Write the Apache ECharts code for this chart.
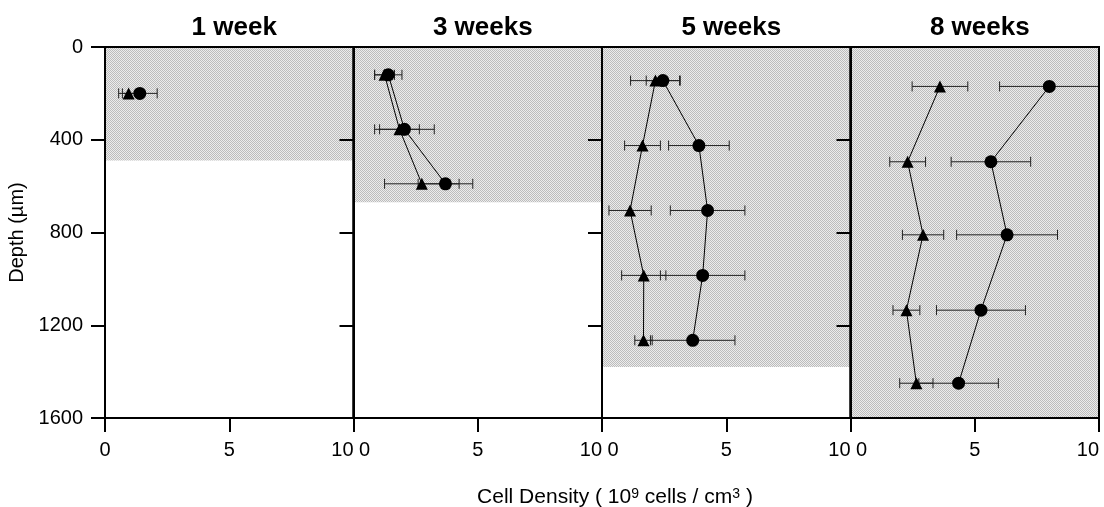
<!DOCTYPE html>
<html>
<head>
<meta charset="utf-8">
<script src="https://cdn.jsdelivr.net/npm/echarts@6/dist/echarts.min.js"></script>
<style>
html,body{margin:0;padding:0;background:#fff;}
#chart{width:1104px;height:507px;}
</style>
</head>
<body>
<div id="chart"></div>
<script>
// ---- data ----
var panelTitles = ['1 week', '3 weeks', '5 weeks', '8 weeks'];
var shadeDepth = [490, 670, 1380, 1600];
var xTicks = [0, 5, 10];
var yTicks = [0, 400, 800, 1200, 1600];

var depth1 = [200];
var circle1 = [1.4];
var circleErr1 = [0.7];
var tri1 = [0.95];
var triErr1 = [0.4];

var depth3 = [120, 355, 590];
var circle3 = [1.4, 2.05, 3.7];
var circleErr3 = [0.55, 1.2, 1.1];
var tri3 = [1.25, 1.85, 2.75];
var triErr3 = [0.4, 0.8, 1.5];

var depth5 = [145, 425, 705, 985, 1265];
var circle5 = [2.45, 3.9, 4.25, 4.05, 3.65];
var circleErr5 = [0.67, 1.22, 1.5, 1.7, 1.7];
var tri5 = [2.15, 1.63, 1.13, 1.68, 1.67];
var triErr5 = [1.0, 0.72, 0.85, 0.89, 0.35];

var depth8 = [170, 495, 810, 1135, 1450];
var circle8 = [8.0, 5.65, 6.3, 5.25, 4.35];
var circleErr8 = [2.0, 1.6, 2.03, 1.79, 1.6];
var tri8 = [3.6, 2.3, 2.92, 2.25, 2.65];
var triErr8 = [1.12, 0.72, 0.83, 0.54, 0.67];

var panels = [
  {depth: depth1, circle: circle1, circleErr: circleErr1, tri: tri1, triErr: triErr1},
  {depth: depth3, circle: circle3, circleErr: circleErr3, tri: tri3, triErr: triErr3},
  {depth: depth5, circle: circle5, circleErr: circleErr5, tri: tri5, triErr: triErr5},
  {depth: depth8, circle: circle8, circleErr: circleErr8, tri: tri8, triErr: triErr8}
];

// ---- shading pattern ----
var pc = document.createElement('canvas');
pc.width = 2; pc.height = 2;
var pctx = pc.getContext('2d');
pctx.fillStyle = '#ececec'; pctx.fillRect(0, 0, 2, 2);
pctx.fillStyle = '#bcbcbc'; pctx.fillRect(0, 0, 1, 1); pctx.fillRect(1, 1, 1, 1);
var shadePattern = {image: pc, repeat: 'repeat'};

var FONT = 'Liberation Sans, Arial, Helvetica, sans-serif';
var GRID_LEFT = 105, GRID_W = 248.5, GRID_TOP = 47, GRID_H = 371;

var grids = [], xAxes = [], yAxes = [], series = [], titles = [];

function errRender(params, api) {
  var x = api.value(0), y = api.value(1), e = api.value(2);
  var p1 = api.coord([x - e, y]);
  var p2 = api.coord([x + e, y]);
  var h = 5;
  var st = {stroke: '#222', lineWidth: 1};
  return {
    type: 'group',
    children: [
      {type: 'line', shape: {x1: p1[0], y1: p1[1], x2: p2[0], y2: p2[1]}, style: st},
      {type: 'line', shape: {x1: p1[0], y1: p1[1] - h, x2: p1[0], y2: p1[1] + h}, style: st},
      {type: 'line', shape: {x1: p2[0], y1: p2[1] - h, x2: p2[0], y2: p2[1] + h}, style: st}
    ]
  };
}

panels.forEach(function (p, i) {
  var left = GRID_LEFT + i * GRID_W;
  grids.push({
    left: left, top: GRID_TOP, width: GRID_W, height: GRID_H,
    show: true, borderColor: '#000', borderWidth: 2, backgroundColor: 'transparent', z: 5
  });
  var lab = {
    show: true, fontSize: 20, color: '#000', fontFamily: FONT, margin: 22,
    formatter: (function (idx) {
      return function (v) {
        if (v === 0 && idx > 0) return ' ' + v;
        return String(v);
      };
    })(i)
  };
  if (i > 0) lab.alignMinLabel = 'left';
  lab.alignMaxLabel = 'right';
  xAxes.push({
    type: 'value', gridIndex: i, min: xTicks[0], max: xTicks[xTicks.length - 1], interval: 5,
    splitLine: {show: false},
    axisLine: {show: true, onZero: false, lineStyle: {color: '#000', width: 2}},
    axisTick: {show: true, inside: false, length: 14, lineStyle: {color: '#000', width: 2}},
    axisLabel: lab,
    z: 6
  });
  var y = {
    type: 'value', gridIndex: i, inverse: true, min: yTicks[0], max: yTicks[yTicks.length - 1], interval: 400,
    splitLine: {show: false},
    axisLine: {show: true, onZero: false, lineStyle: {color: '#000', width: 2}},
    axisTick: {show: true, inside: false, length: 14, lineStyle: {color: '#000', width: 2}},
    axisLabel: {show: i === 0, fontSize: 20, color: '#000', fontFamily: FONT, margin: 22,
      formatter: function (v) { return String(v); }},
    z: 6
  };
  if (i === 0) {
    y.name = 'Depth (\u00b5m)';
    y.nameLocation = 'middle';
    y.nameRotate = 90;
    y.nameGap = 78;
    y.nameTextStyle = {fontSize: 20, color: '#000', fontFamily: FONT};
  }
  yAxes.push(y);

  titles.push({
    text: panelTitles[i], left: left + GRID_W / 2, top: 10, textAlign: 'center',
    textStyle: {fontSize: 26, fontWeight: 'bold', color: '#000', fontFamily: FONT}
  });

  // shading
  series.push({
    type: 'line', xAxisIndex: i, yAxisIndex: i, data: [], z: 1, silent: true,
    markArea: {
      silent: true,
      itemStyle: {color: shadePattern},
      data: [[{xAxis: 0, yAxis: 0}, {xAxis: 10, yAxis: shadeDepth[i]}]]
    }
  });

  var errC = p.depth.map(function (d, k) { return [p.circle[k], d, p.circleErr[k]]; });
  var errT = p.depth.map(function (d, k) { return [p.tri[k], d, p.triErr[k]]; });
  series.push({type: 'custom', xAxisIndex: i, yAxisIndex: i, renderItem: errRender, data: errT, z: 2, clip: false});
  series.push({type: 'custom', xAxisIndex: i, yAxisIndex: i, renderItem: errRender, data: errC, z: 2, clip: false});

  series.push({
    type: 'line', xAxisIndex: i, yAxisIndex: i, z: 3,
    data: p.depth.map(function (d, k) { return [p.tri[k], d]; }),
    symbol: 'triangle', symbolSize: 12, showSymbol: true,
    lineStyle: {color: '#000', width: 1}, itemStyle: {color: '#000'}, animation: false
  });
  series.push({
    type: 'line', xAxisIndex: i, yAxisIndex: i, z: 3,
    data: p.depth.map(function (d, k) { return [p.circle[k], d]; }),
    symbol: 'circle', symbolSize: 13, showSymbol: true,
    lineStyle: {color: '#000', width: 1}, itemStyle: {color: '#000'}, animation: false
  });
});

titles.push({
  text: 'Cell Density ( 10{sup|9} cells / cm{sup|3} )',
  left: 610, top: 482, textAlign: 'center',
  textStyle: {
    fontSize: 21, fontWeight: 'normal', color: '#000', fontFamily: FONT,
    rich: {
      sup: {fontSize: 14, fontWeight: 'normal', fontFamily: FONT, color: '#000', verticalAlign: 'top', lineHeight: 13}
    }
  }
});

var chart = echarts.init(document.getElementById('chart'), null, {renderer: 'canvas'});
chart.setOption({
  animation: false,
  backgroundColor: '#fff',
  title: titles,
  grid: grids,
  xAxis: xAxes,
  yAxis: yAxes,
  series: series
});
</script>
</body>
</html>
